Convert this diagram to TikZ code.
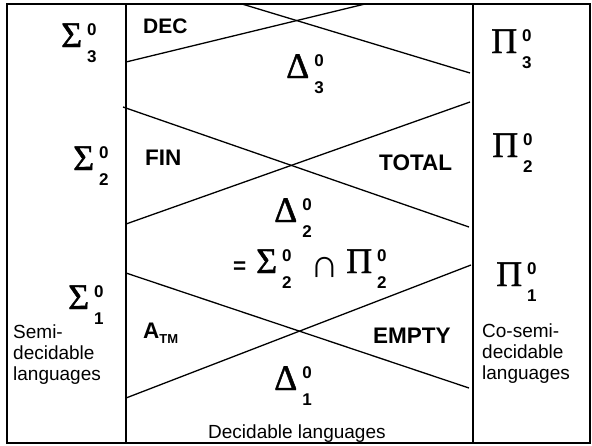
\documentclass[tikz,border=0pt]{standalone}
\usepackage{fontspec}
\setmainfont{Liberation Sans}
\newfontfamily\grk[FakeBold=1.2]{Liberation Serif}
\newcommand\scrf{\fontsize{17}{17}\selectfont\bfseries}
\newcommand\grkf{\grk\fontsize{36}{36}\selectfont}
\newcommand\hy[3]{{\grkf #1}\kern5pt\rlap{\raisebox{12pt}{\scrf #2}}\raisebox{-15pt}{\scrf #3}}
\begin{document}
\begin{tikzpicture}[x=1pt,y=-1pt,
  lbl/.style={anchor=base west, inner sep=0, font=\fontsize{22.5}{22.5}\selectfont\bfseries},
  txt/.style={anchor=base west, inner sep=0, font=\fontsize{19}{21}\selectfont},
  hier/.style={anchor=base west, inner sep=0},
  frame/.style={line width=2.5pt},
  sep/.style={line width=1.6pt},
  diag/.style={line width=1.3pt}]
\useasboundingbox (0,0) rectangle (592,445);
% frame and columns
\draw[frame] (7,4) rectangle (590,443);
\draw[sep] (126,4) -- (126,443);
\draw[sep] (473,4) -- (473,443);
% diagonals
\coordinate (a1) at (242,4);   \coordinate (b1) at (470,73);
\coordinate (a2) at (126,62);  \coordinate (b2) at (365,4);
\coordinate (a3) at (123,107); \coordinate (b3) at (469,227);
\coordinate (a4) at (126,224); \coordinate (b4) at (470,102);
\coordinate (a5) at (126,273); \coordinate (b5) at (469,388);
\coordinate (a6) at (126,398); \coordinate (b6) at (471,265);
\draw[diag] (a1) -- (b1);
\draw[diag] (a2) -- (b2);
\draw[diag] (a3) -- (b3);
\draw[diag] (a4) -- (b4);
\draw[diag] (a5) -- (b5);
\draw[diag] (a6) -- (b6);
% hierarchy symbols
\node[hier] (s3) at (61,47) {\hy{Σ}{0}{3}};
\node[hier] (s2) at (73,170) {\hy{Σ}{0}{2}};
\node[hier] (s1) at (68,309) {\hy{Σ}{0}{1}};
\node[hier] (p3) at (491,53) {\hy{Π}{0}{3}};
\node[hier] (p2) at (492,157) {\hy{Π}{0}{2}};
\node[hier] (p1) at (496,286) {\hy{Π}{0}{1}};
\node[hier] (d3) at (286,78) {\hy{Δ}{0}{3}};
\node[hier] (d2) at (274,222) {\hy{Δ}{0}{2}};
\node[hier] (d1) at (274,390) {\hy{Δ}{0}{1}};
\node[lbl] (eq) at (233,273) {=};
\node[hier] (s2b) at (256,273) {\hy{Σ}{0}{2}};
\node[hier] (cap) at (310,277) {{\fontsize{40}{40}\selectfont ∩}};
\node[hier] (p2b) at (346,273) {\hy{Π}{0}{2}};
% labels
\node[lbl, font=\fontsize{21}{21}\selectfont\bfseries] (dec) at (143,33) {DEC};
\node[lbl] (fin) at (145,165) {FIN};
\node[lbl] (tot) at (379,170) {TOTAL};
\node[lbl] (atm) at (143,338) {A\raisebox{-5pt}{\fontsize{13}{13}\selectfont\bfseries TM}};
\node[lbl] (emp) at (373,343) {EMPTY};
% texts
\node[txt] (sd1) at (13,338) {Semi-};
\node[txt] (sd2) at (13,359) {decidable};
\node[txt] (sd3) at (13,380) {languages};
\node[txt] (cs1) at (482,337) {Co-semi-};
\node[txt] (cs2) at (482,358) {decidable};
\node[txt] (cs3) at (482,379) {languages};
\node[txt] (declang) at (208,438) {Decidable languages};
\end{tikzpicture}
\end{document}
